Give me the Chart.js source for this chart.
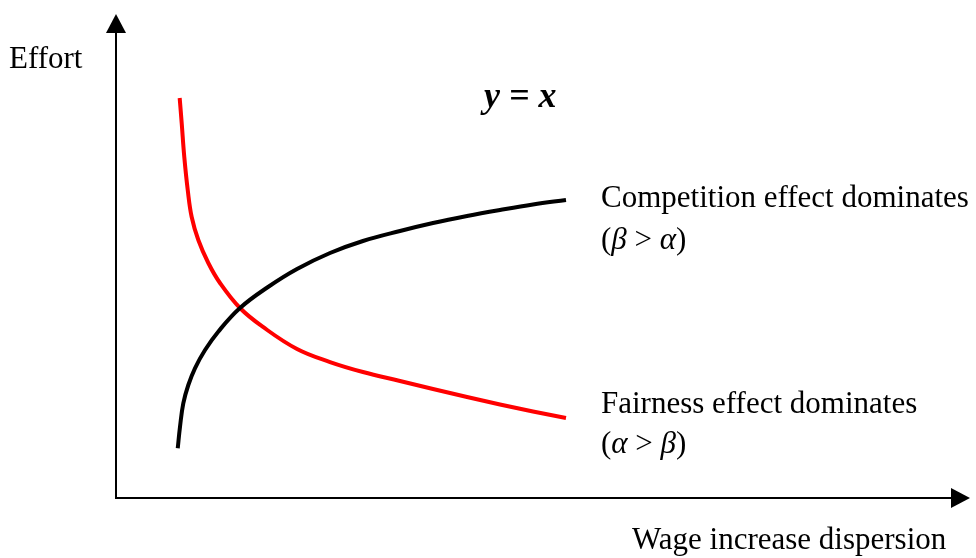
<!DOCTYPE html>
<html lang="en">
<head>
  <meta charset="UTF-8" />
  <title>Effort vs wage increase dispersion</title>
  <style>
    html, body { margin: 0; padding: 0; background: #fff; }
    #wrap { width: 976px; height: 558px; }
  </style>
</head>
<body>
<div id="wrap"><canvas id="chart" width="976" height="558"></canvas></div>

<script src="https://cdn.jsdelivr.net/npm/chart.js"></script>
<script>
// competition effect dominates (black)
const compX = [0.735, 0.762, 0.801, 0.861, 0.940, 1.060, 1.217, 1.476, 1.810, 2.155, 2.548, 2.940, 3.381, 3.774, 4.179, 4.571, 4.964, 5.357];
const compY = [1.035, 1.485, 1.973, 2.354, 2.702, 3.083, 3.465, 3.958, 4.396, 4.771, 5.104, 5.354, 5.563, 5.729, 5.875, 6.000, 6.115, 6.208];

// fairness effect dominates (red)
const fairX = [0.758, 0.782, 0.813, 0.854, 0.901, 0.980, 1.099, 1.238, 1.476, 1.750, 2.155, 2.548, 2.940, 3.381, 3.774, 4.179, 4.571, 4.964, 5.357];
const fairY = [8.333, 7.813, 7.104, 6.417, 5.854, 5.375, 4.896, 4.479, 3.958, 3.563, 3.104, 2.833, 2.625, 2.438, 2.271, 2.104, 1.948, 1.802, 1.667];

const toPoints = (xs, ys) => xs.map((x, i) => ({ x: x, y: ys[i] }));

const serif = '"Times New Roman", "Liberation Serif", serif';

// axes with arrow heads + the text labels
const diagram = {
  id: 'diagram',
  afterDraw(chart) {
    const ctx = chart.ctx;
    const sx = chart.scales.x, sy = chart.scales.y;
    const x0 = sx.getPixelForValue(0), y0 = sy.getPixelForValue(0);
    const top = chart.chartArea.top, right = chart.chartArea.right;
    ctx.save();
    ctx.strokeStyle = '#000';
    ctx.fillStyle = '#000';
    ctx.lineWidth = 2;
    ctx.beginPath();
    ctx.moveTo(x0, y0 + 1);
    ctx.lineTo(x0, top + 14);
    ctx.moveTo(x0 - 1, y0);
    ctx.lineTo(right - 4, y0);
    ctx.stroke();
    // arrow heads
    ctx.beginPath();
    ctx.moveTo(x0, top - 4);
    ctx.lineTo(x0 - 10, top + 15);
    ctx.lineTo(x0 + 10, top + 15);
    ctx.closePath();
    ctx.fill();
    ctx.beginPath();
    ctx.moveTo(right + 14, y0);
    ctx.lineTo(right - 5, y0 - 10);
    ctx.lineTo(right - 5, y0 + 10);
    ctx.closePath();
    ctx.fill();

    ctx.textBaseline = 'alphabetic';
    ctx.font = '31px ' + serif;
    ctx.fillText('Effort', 9, 68);
    ctx.fillText('Competition effect dominates', 601, 207);
    ctx.fillText('Fairness effect dominates', 601, 413);
    ctx.fillText('Wage increase dispersion', 632, 549);

    // mixed upright / italic pieces
    const runs = (parts, x, y) => {
      parts.forEach(p => {
        ctx.font = (p[1] ? 'italic ' : '') + '31px ' + serif;
        ctx.fillText(p[0], x, y);
        x += ctx.measureText(p[0]).width;
      });
    };
    runs([['(', 0], ['\u03B2', 1], [' > ', 0], ['\u03B1', 1], [')', 0]], 601, 249);
    runs([['(', 0], ['\u03B1', 1], [' > ', 0], ['\u03B2', 1], [')', 0]], 601, 453);

    ctx.font = 'italic bold 36px ' + serif;
    ctx.fillText('y = x', 484, 107);
    ctx.restore();
  }
};

new Chart(document.getElementById('chart').getContext('2d'), {
  type: 'line',
  data: {
    datasets: [
      {
        label: 'Competition effect dominates',
        data: toPoints(compX, compY),
        borderColor: '#000000',
        borderWidth: 4,
        pointRadius: 0,
        fill: false,
        tension: 0.4
      },
      {
        label: 'Fairness effect dominates',
        data: toPoints(fairX, fairY),
        borderColor: '#ff0000',
        borderWidth: 4,
        pointRadius: 0,
        fill: false,
        tension: 0.4
      }
    ]
  },
  options: {
    responsive: false,
    animation: false,
    layout: { padding: { left: 116, right: 20, top: 18, bottom: 60 } },
    plugins: {
      legend: { display: false },
      tooltip: { enabled: false }
    },
    scales: {
      x: { type: 'linear', min: 0, max: 10, display: false },
      y: { type: 'linear', min: 0, max: 10, display: false }
    }
  },
  plugins: [diagram]
});
</script>
</body>
</html>
